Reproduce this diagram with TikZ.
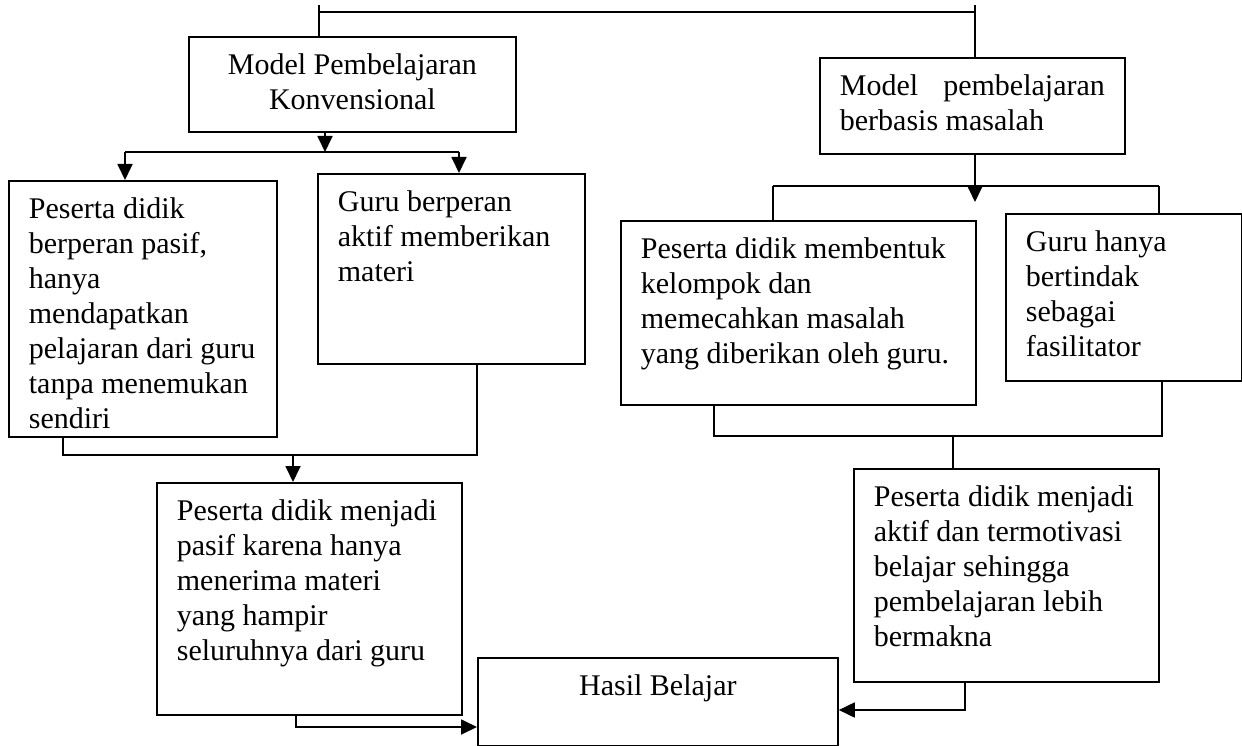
\documentclass[tikz,border=0pt]{standalone}
\usepackage{fontspec}
\setmainfont{Liberation Serif}
\usetikzlibrary{arrows.meta}
\tikzstyle{box} = [rectangle, draw=black, line width=1.8pt, anchor=north west, inner xsep=20pt, inner ysep=13pt]
\tikzstyle{line} = [line width=1.8pt]
\tikzstyle{arrow} = [line width=1.8pt, -{Triangle[length=16pt,width=15pt]}]
\newcommand{\isi}[3]{\parbox[t][#2pt][t]{#1pt}{\raggedright\strut #3}}
\newcommand{\isitengah}[3]{\parbox[t][#2pt][t]{#1pt}{\centering\strut #3}}

\begin{document}
\begin{tikzpicture}[x=1pt, y=-1pt, font=\fontsize{30}{35}\selectfont]
\useasboundingbox (0,0) rectangle (1242,746);

\node (konvensional) [box] at (188,36) {\isitengah{287}{69}{Model Pembelajaran\\Konvensional}};
\node (pasif) [box] at (8,180) {\isi{228}{230}{Peserta didik\\berperan pasif,\\hanya\\mendapatkan\\pelajaran dari guru\\tanpa menemukan\\sendiri}};
\node (guruaktif) [box] at (317,173) {\isi{227}{164}{Guru berperan\\aktif memberikan\\materi}};
\node (hasilpasif) [box] at (156,482) {\isi{265}{206}{Peserta didik menjadi\\pasif karena hanya\\menerima materi\\yang hampir\\seluruhnya dari guru}};
\node (hasil) [box] at (477,657) {\isitengah{320}{62}{Hasil Belajar}};
\node (pbm) [box] at (819,57) {\isi{265}{70}{Model\hfill pembelajaran\\berbasis masalah}};
\node (kelompok) [box] at (620,220) {\isi{315}{158}{Peserta didik membentuk\\kelompok dan\\memecahkan masalah\\yang diberikan oleh guru.}};
\node (fasilitator) [box] at (1005,213) {\isi{196}{141}{Guru hanya\\bertindak\\sebagai\\fasilitator}};
\node (hasilaktif) [box] at (853,468) {\isi{265}{187}{Peserta didik menjadi\\aktif dan termotivasi\\belajar sehingga\\pembelajaran lebih\\bermakna}};

\coordinate (atasKiri) at (319,5);
\coordinate (atasKanan) at (975,5);
\coordinate (garisKiri) at (319,12);
\coordinate (garisKanan) at (975,12);
\draw [line] (atasKiri) -- (konvensional.north -| atasKiri);
\draw [line] (atasKanan) -- (pbm.north -| atasKanan);
\draw [line] (garisKiri) -- (garisKanan);

\coordinate (cabang1) at (325,152);
\coordinate (cabangKiri) at (125,152);
\coordinate (cabangKanan) at (459,152);
\draw [arrow] (konvensional.south -| cabang1) -- (cabang1);
\draw [line] (cabangKiri) -- (cabangKanan);
\draw [arrow] (cabangKiri) -- (pasif.north -| cabangKiri);
\draw [arrow] (cabangKanan) -- (guruaktif.north -| cabangKanan);

\coordinate (gabungKiri) at (63,455);
\coordinate (gabungKanan) at (477,455);
\coordinate (gabung1) at (293,455);
\draw [line] (pasif.south -| gabungKiri) -- (gabungKiri) -- (gabungKanan) -- (guruaktif.south -| gabungKanan);
\draw [arrow] (gabung1) -- (hasilpasif.north -| gabung1);
\coordinate (keluarKiri) at (296,727);
\draw [arrow] (hasilpasif.south -| keluarKiri) -- (keluarKiri) -- (hasil.west |- keluarKiri);

\coordinate (cabang2) at (975,202);
\coordinate (cabangKiri2) at (773,186);
\coordinate (cabangKanan2) at (1159,186);
\draw [arrow] (pbm.south -| cabang2) -- (cabang2);
\draw [line] (cabangKiri2) -- (cabangKanan2);
\draw [line] (cabangKiri2) -- (kelompok.north -| cabangKiri2);
\draw [line] (cabangKanan2) -- (fasilitator.north -| cabangKanan2);

\coordinate (gabungKiri2) at (714,436);
\coordinate (gabungKanan2) at (1162,436);
\coordinate (gabung2) at (953,436);
\draw [line] (kelompok.south -| gabungKiri2) -- (gabungKiri2) -- (gabungKanan2) -- (fasilitator.south -| gabungKanan2);
\draw [line] (gabung2) -- (hasilaktif.north -| gabung2);
\coordinate (keluarKanan) at (965,710);
\draw [arrow] (hasilaktif.south -| keluarKanan) -- (keluarKanan) -- (hasil.east |- keluarKanan);

\end{tikzpicture}
\end{document}
